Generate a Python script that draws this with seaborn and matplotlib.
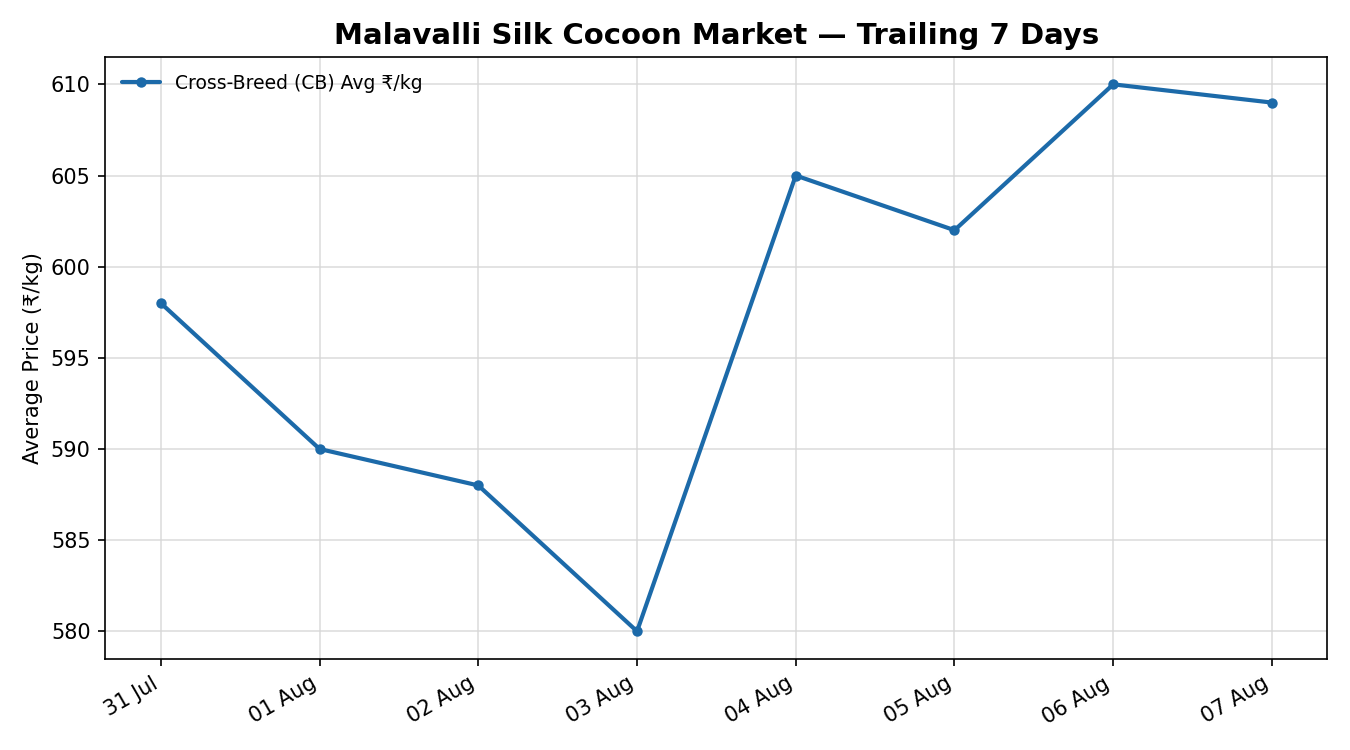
import pandas as pd
import matplotlib
matplotlib.use("Agg")
import matplotlib.pyplot as plt
import seaborn as sns

# Data
dates = ["31 Jul", "01 Aug", "02 Aug", "03 Aug", "04 Aug", "05 Aug", "06 Aug", "07 Aug"]
cb_avg_price = [598, 590, 588, 580, 605, 602, 610, 609]

df = pd.DataFrame({"date": dates, "price": cb_avg_price})
df["idx"] = range(len(df))

sns.set_style("ticks", {
    "text.color": "black",
    "axes.labelcolor": "black",
    "axes.edgecolor": "black",
    "xtick.color": "black",
    "ytick.color": "black",
})
plt.rcParams["font.family"] = ["DejaVu Sans"]

fig, ax = plt.subplots(figsize=(9, 5), dpi=150)
sns.lineplot(data=df, x="idx", y="price", ax=ax, color="#1c6aa9", linewidth=2,
             marker="o", markersize=5, markeredgewidth=0,
             label="Cross-Breed (CB) Avg \u20b9/kg")

ax.set_xticks(df["idx"])
ax.set_xticklabels(df["date"], rotation=30, ha="right")
ax.set_xlabel("")
ax.set_ylabel("Average Price (\u20b9/kg)")
ax.set_title("Malavalli Silk Cocoon Market \u2014 Trailing 7 Days", fontsize=14, fontweight="bold")
ax.set_yticks([580, 585, 590, 595, 600, 605, 610])
ax.set_xlim(-0.35, 7.35)
ax.set_ylim(578.5, 611.5)
ax.grid(True, color="#d6d6d6", linewidth=0.8, alpha=0.8)
ax.legend(loc="upper left", frameon=False, fontsize=9)

plt.tight_layout()
plt.savefig("out.png", dpi=150)
